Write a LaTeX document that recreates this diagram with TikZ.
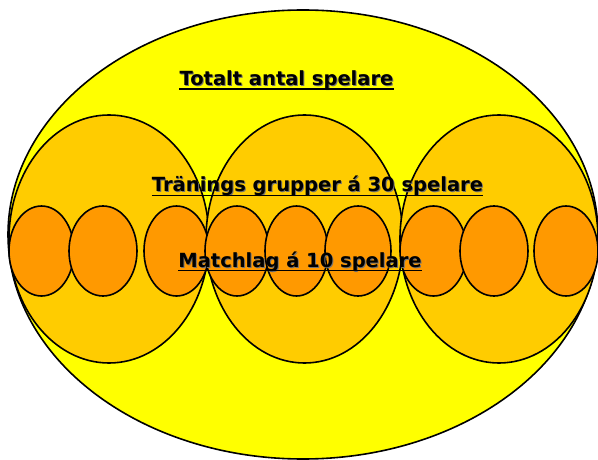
\documentclass[tikz,border=0pt]{standalone}
\usepackage{tikz}
\usetikzlibrary{shapes}
\usepackage{fontspec}
\setmainfont{DejaVu Sans}
\usepackage{color}
\definecolor{totalfill}{HTML}{FFFF00}
\definecolor{grpfill}{HTML}{FFCC00}
\definecolor{lagfill}{HTML}{FF9900}
\newcommand{\shadowed}[1]{\makebox[0pt][l]{\hspace{1pt}\raisebox{-1pt}{\textcolor{black!55}{#1}}}#1}
\tikzstyle{total} = [draw=black, line width=1.6pt, fill=totalfill]
\tikzstyle{grupp} = [draw=black, line width=1.6pt, fill=grpfill]
\tikzstyle{lag} = [draw=black, line width=1.6pt, fill=lagfill]
\tikzstyle{rubrik} = [anchor=base, inner sep=0pt, font=\bfseries\fontsize{19.5}{22}\selectfont]
\tikzstyle{ul} = [line width=1.9pt]

\begin{document}
\begin{tikzpicture}[x=1pt, y=-1pt]
\useasboundingbox (0,0) rectangle (598,460);

% Ellipses
\filldraw [total] (303,234.5) ellipse [x radius=295, y radius=224.5];
\filldraw [grupp] (109,239) ellipse [x radius=100, y radius=124];
\filldraw [grupp] (304.5,239) ellipse [x radius=98.5, y radius=124];
\filldraw [grupp] (499,239) ellipse [x radius=99, y radius=124];
\filldraw [lag] (41.5,251) ellipse [x radius=32.5, y radius=45];
\filldraw [lag] (103,251) ellipse [x radius=34, y radius=45];
\filldraw [lag] (176.5,251) ellipse [x radius=32.5, y radius=45];
\filldraw [lag] (237,251) ellipse [x radius=32, y radius=45];
\filldraw [lag] (296.5,251) ellipse [x radius=31.5, y radius=45];
\filldraw [lag] (358,251) ellipse [x radius=33, y radius=45];
\filldraw [lag] (433.5,251) ellipse [x radius=33.5, y radius=45];
\filldraw [lag] (494,251) ellipse [x radius=34, y radius=45];
\filldraw [lag] (566,251) ellipse [x radius=32, y radius=45];

% Labels
\node (totalt) [rubrik] at (286.5,85.5) {\shadowed{Totalt antal spelare}};
\node (trgrupp) [rubrik] at (317.5,192) {\shadowed{Tränings grupper á 30 spelare}};
\node (match) [rubrik] at (300,267) {\shadowed{Matchlag á 10 spelare}};

% Underlines
\draw [ul] ([yshift=-3.5pt]totalt.base west) -- ([yshift=-3.5pt]totalt.base east);
\draw [ul] ([yshift=-3.5pt]trgrupp.base west) -- ([yshift=-3.5pt]trgrupp.base east);
\draw [ul] ([yshift=-3.5pt]match.base west) -- ([yshift=-3.5pt]match.base east);

\end{tikzpicture}
\end{document}
